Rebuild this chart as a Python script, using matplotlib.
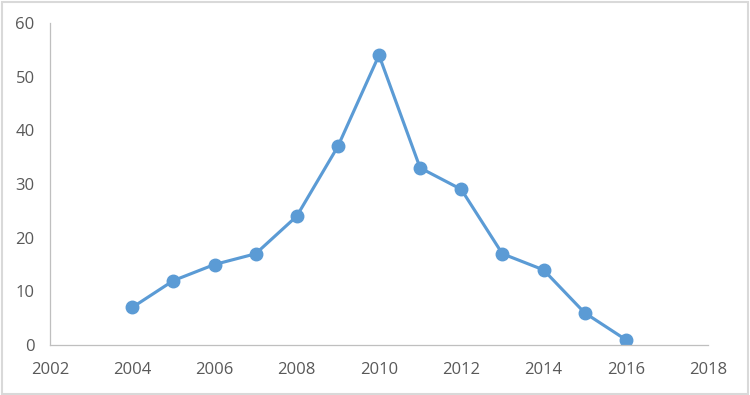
import matplotlib
matplotlib.use("Agg")
import matplotlib.pyplot as plt
from matplotlib.patches import Rectangle

# data
years = [2004, 2005, 2006, 2007, 2008, 2009, 2010, 2011, 2012, 2013, 2014, 2015, 2016]
counts = [7, 12, 15, 17, 24, 37, 54, 33, 29, 17, 14, 6, 1]
x_ticks = [2002, 2004, 2006, 2008, 2010, 2012, 2014, 2016, 2018]
y_ticks = [0, 10, 20, 30, 40, 50, 60]

plt.rcParams['font.family'] = ['Open Sans', 'DejaVu Sans']

fig = plt.figure(figsize=(7.5, 3.95), dpi=100)
ax = fig.add_axes([50/750, 50/395, 658/750, 322/395])

ax.plot(years, counts, color="#5B9BD5", linewidth=2.25,
        marker="o", markersize=9, markerfacecolor="#5B9BD5",
        markeredgecolor="#5B9BD5")

ax.set_xlim(2002, 2018)
ax.set_ylim(0, 60)
ax.set_xticks(x_ticks)
ax.set_yticks(y_ticks)
ax.tick_params(length=0, labelsize=12, colors="#595959")
ax.tick_params(axis="y", pad=11)
ax.tick_params(axis="x", pad=12)

for side in ["top", "right"]:
    ax.spines[side].set_visible(False)
ax.spines["left"].set_color("#BFBFBF")
ax.spines["bottom"].set_color("#BFBFBF")
ax.spines["left"].set_linewidth(0.9)
ax.spines["bottom"].set_linewidth(0.9)

# outer chart border
fig.patches.append(Rectangle((0.002, 0.003), 0.995, 0.993, transform=fig.transFigure,
                             fill=False, edgecolor="#D9D9D9", linewidth=1.5))

fig.savefig("out.png", dpi=100)
